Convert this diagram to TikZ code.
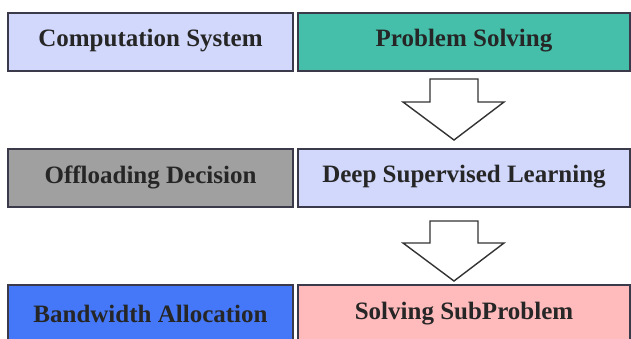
\documentclass[tikz,border=0pt]{standalone}
\usepackage{fontspec}
\setmainfont{Liberation Serif}
\definecolor{lav}{HTML}{D2D8FC}
\definecolor{teal}{HTML}{45BFAA}
\definecolor{gry}{HTML}{A0A0A0}
\definecolor{blu}{HTML}{4478F8}
\definecolor{pnk}{HTML}{FFBBBB}
\definecolor{edge}{HTML}{3A3A4A}
\begin{document}
\begin{tikzpicture}[x=1pt,y=-1pt,
  box/.style={draw=edge,line width=1.1pt,inner sep=0pt,outer sep=0pt},
  lbl/.style={font=\fontsize{25}{28}\selectfont\bfseries,text=black!85},
  bigarrow/.style={draw=black!80,line width=1.4pt,fill=white,line join=miter}]
\useasboundingbox (0,0) rectangle (631,338);
% row 1
\path[box,fill=lav] (8,13) rectangle (293,71);
\path[box,fill=teal] (298,13) rectangle (630,71);
\node[lbl] (cs) at (150.5,41) {Computation System};
\node[lbl] (ps) at (464,41) {Problem Solving};
% row 2
\path[box,fill=gry] (8,149) rectangle (293,207);
\path[box,fill=lav] (298,149) rectangle (630,207);
\node[lbl] (od) at (150.5,177) {Offloading Decision};
\node[lbl] (dsl) at (464,177) {Deep Supervised Learning};
% row 3
\path[box,fill=blu] (8,285) rectangle (293,345);
\path[box,fill=pnk] (298,285) rectangle (630,345);
\node[lbl] (ba) at (150.5,314) {Bandwidth Allocation};
\node[lbl] (ssp) at (464,314) {Solving SubProblem};
% arrows
\draw[bigarrow] (430,79) -- (478,79) -- (478,102) -- (504,102) -- (454,140) -- (403,102) -- (430,102) -- cycle;
\draw[bigarrow] (430,221) -- (478,221) -- (478,243) -- (504,243) -- (454,281) -- (403,243) -- (430,243) -- cycle;
\end{tikzpicture}
\end{document}
